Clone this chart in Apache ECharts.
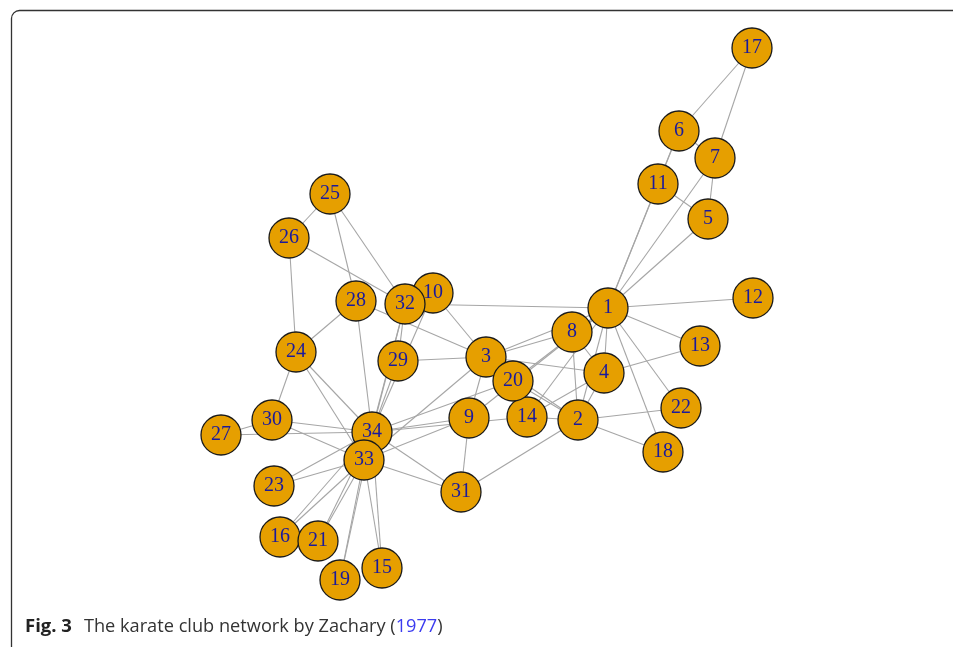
<!DOCTYPE html>
<html>
<head>
<meta charset="utf-8">
<script src="https://cdn.jsdelivr.net/npm/echarts@6/dist/echarts.min.js"></script>
<style>
html,body{margin:0;padding:0;background:#fff;}
#chart{width:953px;height:647px;}
</style>
</head>
<body>
<div id="chart"></div>
<script>
// Node ids and layout positions (layout units)
const nodeIds = ['1','2','3','4','5','6','7','8','9','10','11','12','13','14','15','16','17','18','19','20','21','22','23','24','25','26','27','28','29','30','31','32','34','33'];
const nodeX = [608,578,486,604,708,679,715,572,469,433,658,753,700,527,382,280,752,663,340,513,318,681,274,296,330,289,221,356,398,272,461,405,372,364];
const nodeY = [308,420,357,373,219,131,158,332,418,293,184,298,346,417,568,537,48,452,580,381,541,408,486,352,194,238,435,301,361,420,492,304,432,460];

// Zachary karate club edges
const edgeSource = [1,1,1,1,1,1,1,1,1,1,1,1,1,1,1,1,
  2,2,2,2,2,2,2,2,
  3,3,3,3,3,3,3,3,
  4,4,4,
  5,5,
  6,6,6,
  7,
  9,9,9,
  10,14,
  15,15,16,16,19,19,20,21,21,23,23,
  24,24,24,24,24,
  25,25,25,26,27,27,28,29,29,30,30,31,31,32,32,33];
const edgeTarget = [2,3,4,5,6,7,8,9,11,12,13,14,18,20,22,32,
  3,4,8,14,18,20,22,31,
  4,8,9,10,14,28,29,33,
  8,13,14,
  7,11,
  7,11,17,
  17,
  31,33,34,
  34,34,
  33,34,33,34,33,34,34,33,34,33,34,
  26,28,30,33,34,
  26,28,32,32,30,34,34,32,34,33,34,33,34,33,34,34];

const caption = { bold: 'Fig. 3', text: 'The karate club network by Zachary (', year: '1977', close: ')' };

const nodes = nodeIds.map((id, i) => ({ id: id, name: id, value: [nodeX[i], nodeY[i]] }));
const idx = (n) => nodeIds.indexOf(String(n));
const links = edgeSource.map((s, i) => ({ source: idx(s), target: idx(edgeTarget[i]) }));

const chart = echarts.init(document.getElementById('chart'), null, { renderer: 'canvas' });
chart.setOption({
  backgroundColor: '#ffffff',
  animation: false,
  grid: { left: 0, right: 0, top: 0, bottom: 0 },
  xAxis: { type: 'value', min: 0, max: 953, show: false },
  yAxis: { type: 'value', min: 0, max: 647, inverse: true, show: false },
  graphic: [
    {
      type: 'rect', left: 9, top: 8, silent: true, z: -1,
      shape: { width: 1100, height: 800, r: 8 },
      style: { fill: 'none', stroke: '#333333', lineWidth: 1.3 }
    },
    {
      type: 'text', left: 25, top: 617,
      style: {
        text: '{b|' + caption.bold + '}{n|' + caption.text + '}{y|' + caption.year + '}{n|' + caption.close + '}',
        rich: {
          b: { fontFamily: 'Open Sans', fontWeight: 'bold', fontSize: 18.5, fill: '#222222', padding: [0, 12, 0, 0] },
          n: { fontFamily: 'Open Sans', fontSize: 18.2, fill: '#333333' },
          y: { fontFamily: 'Open Sans', fontSize: 18.2, fill: '#3b3bf0' }
        }
      }
    }
  ],
  series: [{
    type: 'graph',
    coordinateSystem: 'cartesian2d',
    layout: 'none',
    symbol: 'circle',
    symbolSize: 40,
    data: nodes,
    links: links,
    itemStyle: { color: '#E69F00', borderColor: '#1a1a1a', borderWidth: 1.3 },
    lineStyle: { color: '#a6a6a6', width: 1.1, opacity: 1, curveness: 0 },
    label: {
      show: true, position: 'inside',
      formatter: '{b}',
      fontFamily: 'Liberation Serif', fontSize: 20, color: '#1a1a9c'
    },
    emphasis: { disabled: true }
  }]
});
</script>
</body>
</html>
